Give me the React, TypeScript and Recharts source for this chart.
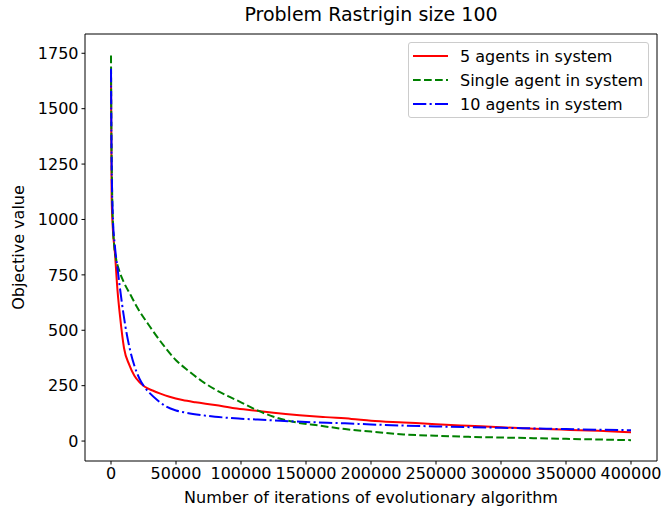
import React from 'react'
import {
  LineChart,
  Line,
  XAxis,
  YAxis,
  ReferenceArea
} from 'recharts'

// 5 agents in system
const fiveAgentsIterations = [0, 500, 1500, 3000, 5000, 7000, 10000, 14000, 18000, 22000, 26000, 32000, 38000, 45000, 55000, 65000, 80000, 95000, 110000, 125000, 145000, 165000, 185000, 200000, 225000, 250000, 275000, 300000, 325000, 350000, 375000, 400000]
const fiveAgentsValues = [1650, 1100, 950, 850, 680, 560, 420, 345, 295, 265, 245, 228, 214, 200, 185, 175, 163, 148, 138, 128, 117, 108, 100, 92, 84, 76, 69, 62, 56, 51, 46, 40]

// Single agent in system
const singleAgentIterations = [0, 300, 800, 1500, 2500, 4000, 6000, 10000, 15000, 20000, 30000, 40000, 50000, 60000, 70000, 80000, 90000, 100000, 112000, 125000, 140000, 160000, 180000, 200000, 225000, 250000, 275000, 300000, 325000, 350000, 375000, 400000]
const singleAgentValues = [1740, 1400, 1150, 980, 880, 820, 775, 715, 660, 605, 516, 435, 365, 315, 270, 233, 203, 175, 140, 110, 87, 70, 54, 43, 30, 24, 19, 16, 13, 10, 7, 4]

// 10 agents in system
const tenAgentsIterations = [0, 500, 1500, 3000, 5000, 8000, 11000, 14500, 18000, 22000, 26000, 30000, 36000, 42000, 50000, 56000, 70000, 80000, 100000, 120000, 150000, 180000, 200000, 250000, 300000, 350000, 400000]
const tenAgentsValues = [1680, 1250, 1000, 880, 780, 640, 520, 415, 340, 280, 242, 215, 183, 157, 138, 130, 117, 110, 101, 95, 86, 80, 75, 66, 60, 54, 49]

const xTicks = [0, 50000, 100000, 150000, 200000, 250000, 300000, 350000, 400000]
const yTicks = [0, 250, 500, 750, 1000, 1250, 1500, 1750]

const toPoints = (xs: number[], ys: number[]) => xs.map((x, i) => ({ x, y: ys[i] }))

const series = [
  { name: '5 agents in system', color: '#ff0000', dash: undefined, data: toPoints(fiveAgentsIterations, fiveAgentsValues) },
  { name: 'Single agent in system', color: '#008000', dash: '7.7 3.3', data: toPoints(singleAgentIterations, singleAgentValues) },
  { name: '10 agents in system', color: '#0000ff', dash: '13.3 3.3 2.1 3.3', data: toPoints(tenAgentsIterations, tenAgentsValues) }
]

const FONT = '"DejaVu Sans", sans-serif'

const LegendBox = () => (
  <div style={{
    position: 'absolute',
    left: 408,
    top: 42,
    width: 241,
    height: 76,
    boxSizing: 'border-box',
    border: '1px solid #cccccc',
    borderRadius: 3,
    background: 'rgba(255,255,255,0.8)',
    fontFamily: FONT,
    fontSize: 16,
    color: '#000',
    paddingTop: 1
  }}>
    {series.map((s) => (
      <div key={s.name} style={{ display: 'flex', alignItems: 'center', height: 24 }}>
        <svg width={47} height={10} style={{ marginLeft: 4 }}>
          <line x1={0} y1={5} x2={35} y2={5} stroke={s.color} strokeWidth={2} strokeDasharray={s.dash} />
        </svg>
        <span>{s.name}</span>
      </div>
    ))}
  </div>
)

export default function App() {
  return (
    <div style={{ position: 'absolute', left: 0, top: 0, width: 662, height: 514, background: '#fff' }}>
      <div style={{
        position: 'absolute', left: 85, width: 572, top: 3, textAlign: 'center',
        fontFamily: FONT, fontSize: 19, color: '#000'
      }}>
        Problem Rastrigin size 100
      </div>
      <LineChart
        width={662}
        height={514}
        margin={{ top: 34, right: 5, left: 0, bottom: 0 }}
      >
        <XAxis
          type="number"
          dataKey="x"
          domain={[-20000, 420000]}
          ticks={xTicks}
          allowDataOverflow
          height={53}
          axisLine={false}
          tickSize={3.5}
          tickMargin={3}
          tickLine={{ stroke: '#000' }}
          tick={{ fill: '#000', fontSize: 16, fontFamily: FONT }}
          interval={0}
          label={{
            content: () => (
              <text x={371} y={503} textAnchor="middle" fill="#000" fontSize={16} fontFamily={FONT}>
                Number of iterations of evolutionary algorithm
              </text>
            )
          }}
        />
        <YAxis
          type="number"
          dataKey="y"
          domain={[-90, 1837]}
          ticks={yTicks}
          allowDataOverflow
          width={85}
          axisLine={false}
          tickSize={3.5}
          tickMargin={3}
          tickLine={{ stroke: '#000' }}
          tick={{ fill: '#000', fontSize: 16, fontFamily: FONT }}
          interval={0}
          label={{
            content: () => (
              <text
                x={24}
                y={247.5}
                transform="rotate(-90 24 247.5)"
                textAnchor="middle"
                fill="#000"
                fontSize={16}
                fontFamily={FONT}
              >
                Objective value
              </text>
            )
          }}
        />
        {series.map((s) => (
          <Line
            key={s.name}
            data={s.data}
            dataKey="y"
            name={s.name}
            type="monotone"
            stroke={s.color}
            strokeWidth={2}
            strokeDasharray={s.dash}
            dot={false}
            activeDot={false}
            isAnimationActive={false}
          />
        ))}
        <ReferenceArea
          x1={-20000}
          x2={420000}
          y1={-90}
          y2={1837}
          fill="none"
          stroke="#000"
          strokeWidth={1}
          ifOverflow="visible"
        />
      </LineChart>
      <LegendBox />
    </div>
  )
}
